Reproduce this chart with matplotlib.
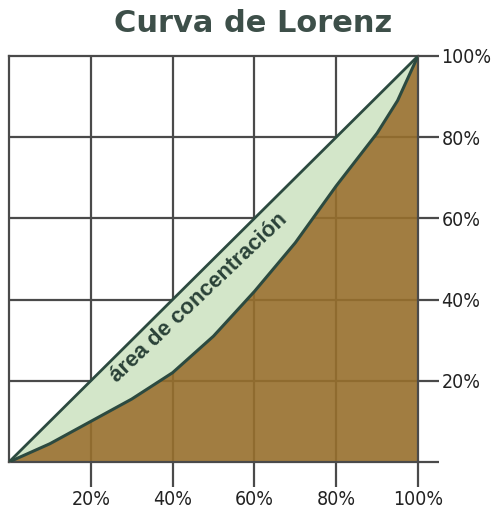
import numpy as np
import matplotlib.pyplot as plt
from matplotlib import font_manager

# lorenz curve (% of population -> % of income)
pop = [0, 10, 20, 30, 40, 50, 60, 70, 80, 90, 95, 100]
income = [0, 4.5, 10, 15.5, 22, 31, 42, 54, 68, 81, 89, 100]
xticks = [20, 40, 60, 80, 100]
yticks = [0, 20, 40, 60, 80, 100]
xlabels = ['20%', '40%', '60%', '80%', '100%']
ylabels = ['', '20%', '40%', '60%', '80%', '100%']

brown = '#976f2c'
green = '#d3e6c9'
dark = '#2c4a40'
gridc = '#4a4a4a'

fig = plt.figure(figsize=(4.92, 5.13), dpi=100)
ax = fig.add_axes([9/492, 51/513, 409/492, 406/513])
ax.set_xlim(0, 100)
ax.set_ylim(0, 100)

# grid under the fills
for t in [20, 40, 60, 80]:
    ax.axvline(t, color=gridc, lw=1.6, zorder=1)
    ax.axhline(t, color=gridc, lw=1.6, zorder=1)

# brown area under the curve
ax.fill_between(pop, 0, income, color=brown, alpha=0.9, lw=0, zorder=2)
# green band between diagonal and curve
ax.fill_between(pop, income, pop, color=green, lw=0, zorder=3)
ax.plot([0, 100], [0, 100], color=dark, lw=2, zorder=4)
ax.plot(pop, income, color=dark, lw=2.2, zorder=4)

ax.text(46.5, 40.5, 'área de concentración', rotation=43.5, ha='center', va='center',
        fontsize=16, fontweight='bold', color='#2a4238', family='Liberation Sans',
        rotation_mode='anchor', zorder=5)

for s in ax.spines.values():
    s.set_color(gridc)
    s.set_linewidth(1.6)

ax.set_xticks(xticks)
ax.set_xticklabels(xlabels)
ax.yaxis.tick_right()
ax.set_yticks(yticks)
ax.set_yticklabels(ylabels)
ax.tick_params(axis='x', direction='out', length=18, width=1.6, color=gridc, pad=2,
               labelsize=14, labelcolor='#222222')
ax.tick_params(axis='y', direction='out', length=15, width=1.6, color=gridc, pad=2,
               labelsize=14, labelcolor='#222222')
for lab in ax.get_xticklabels() + ax.get_yticklabels():
    lab.set_family('DejaVu Sans')
    lab.set_fontstretch('condensed')

fig.text(253/492, 1 - 24/513, 'Curva de Lorenz', ha='center', va='center',
         fontsize=22, fontweight='heavy', color='#3d4f49', family='DejaVu Sans')

fig.savefig('out.png', dpi=100)
